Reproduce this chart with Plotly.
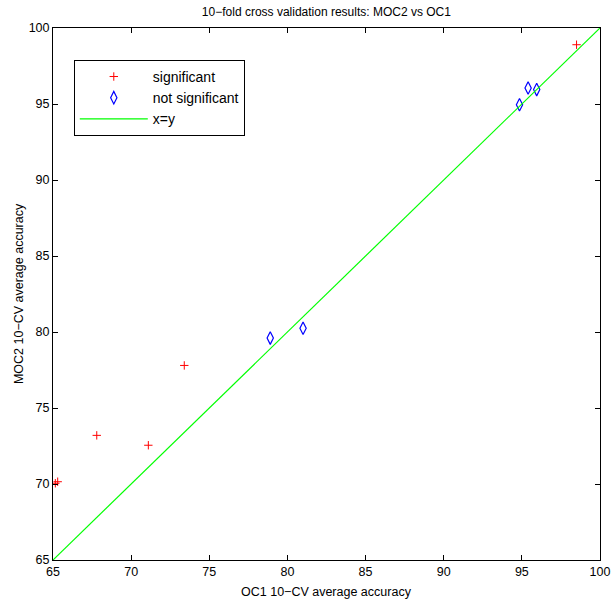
import plotly.graph_objects as go

sig_x = [65.15, 65.3, 67.8, 71.1, 73.4, 98.5]
sig_y = [70.05, 70.15, 73.2, 72.55, 77.8, 98.9]
ns_x = [78.9, 81.0, 94.85, 95.4, 95.95]
ns_y = [79.6, 80.25, 94.95, 96.05, 95.95]
line_x = [65, 100]
line_y = [65, 100]
ticks = [65, 70, 75, 80, 85, 90, 95, 100]

FONT = "Liberation Sans, Arial, sans-serif"

fig = go.Figure()
fig.add_trace(go.Scatter(x=sig_x, y=sig_y, mode="markers", name="significant",
                         marker=dict(symbol="cross-thin", size=6, color="red",
                                     line=dict(color="red", width=1))))
fig.add_trace(go.Scatter(x=ns_x, y=ns_y, mode="markers", name="not significant",
                         marker=dict(symbol="diamond-tall-open", size=9, color="blue",
                                     line=dict(color="blue", width=1.2))))
fig.add_trace(go.Scatter(x=line_x, y=line_y, mode="lines", name="x=y",
                         line=dict(color="#00ff00", width=1.2)))

axis_common = dict(range=[65, 100], tickvals=ticks, ticks="inside", ticklen=5,
                   tickcolor="black", showline=True, linecolor="black", linewidth=1,
                   mirror="ticks", showgrid=False, zeroline=False, automargin=False,
                   tickfont=dict(size=12.5, color="black", family=FONT))

fig.update_layout(
    width=613, height=602,
    margin=dict(l=53, r=13, t=28, b=42),
    paper_bgcolor="white", plot_bgcolor="white",
    font=dict(family=FONT, color="black"),
    title=dict(text="10\u2212fold cross validation results: MOC2 vs OC1",
               font=dict(size=12), x=0.5325, xanchor="center", y=0.98, yanchor="middle"),
    xaxis=dict(axis_common),
    yaxis=dict(axis_common),
    legend=dict(x=0.038, y=0.94, xanchor="left", yanchor="top",
                bordercolor="black", borderwidth=1, bgcolor="white",
                font=dict(size=14), itemwidth=68, tracegroupgap=0),
    showlegend=True,
    annotations=[
        dict(text="OC1 10\u2212CV average accuracy", xref="paper", yref="paper",
             x=0.5, y=-0.06, xanchor="center", yanchor="middle", showarrow=False,
             font=dict(size=12.5, family=FONT)),
        dict(text="MOC2 10\u2212CV average accuracy", xref="paper", yref="paper",
             x=-0.062, y=0.5, xanchor="center", yanchor="middle", showarrow=False,
             textangle=-90, font=dict(size=12.5, family=FONT)),
    ],
)

fig.write_html("out.html", config={"displayModeBar": False},
               post_script="document.body.style.margin='0';document.body.style.padding='0';"
                           "document.body.style.overflow='hidden';")
